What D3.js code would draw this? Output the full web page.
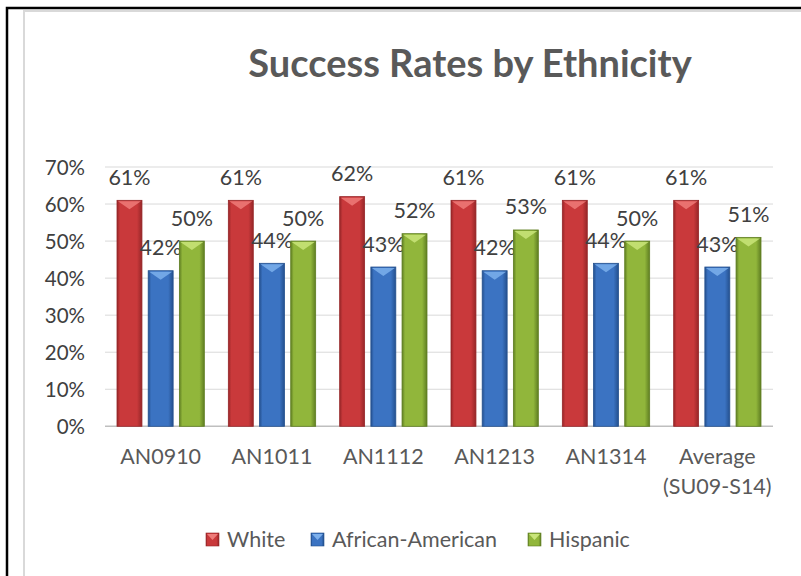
<!DOCTYPE html>
<html>
<head>
<meta charset="utf-8">
<script src="https://cdn.jsdelivr.net/npm/d3@7"></script>
<style>
  html, body { margin: 0; padding: 0; background: #fff; overflow: hidden; }
  svg { display: block; }
  text { font-family: Lato, "Open Sans", sans-serif; }
</style>
</head>
<body>
<svg id="chart" width="801" height="576"></svg>
<script>
// Success rates (%) by ethnicity for each academic year
const categories = ["AN0910", "AN1011", "AN1112", "AN1213", "AN1314", "Average\n(SU09-S14)"];
const seriesNames = ["White", "African-American", "Hispanic"];
const white = [61, 61, 62, 61, 61, 61];
const africanAmerican = [42, 44, 43, 42, 44, 43];
const hispanic = [50, 50, 52, 53, 50, 51];
const yTicks = [0, 10, 20, 30, 40, 50, 60, 70];

const series = [white, africanAmerican, hispanic];
const palette = [
  { base: "#C9393B", dark: "#962628", light: "#EE7B79" },
  { base: "#3B73C2", dark: "#24508E", light: "#7DB0EC" },
  { base: "#91B63B", dark: "#5F7E22", light: "#C9E57A" }
];

const svg = d3.select("#chart");

// Frame: outer black edge and the inner grey chart-area edge (top and left only)
svg.append("path").attr("d", "M7,576V8H801").attr("fill", "none")
  .attr("stroke", "#000").attr("stroke-width", 2.5);
svg.append("path").attr("d", "M24,576V11H801").attr("fill", "none")
  .attr("stroke", "#D9D9D9").attr("stroke-width", 2);

// Gradients for the bevelled bars
const defs = svg.append("defs");
palette.forEach((c, i) => {
  const g = defs.append("linearGradient").attr("id", "bar" + i)
    .attr("x1", "0%").attr("x2", "100%").attr("y1", "0%").attr("y2", "0%");
  g.append("stop").attr("offset", "0%").attr("stop-color", c.dark);
  g.append("stop").attr("offset", "12%").attr("stop-color", c.base);
  g.append("stop").attr("offset", "80%").attr("stop-color", c.base);
  g.append("stop").attr("offset", "100%").attr("stop-color", c.dark);
});

// Title
svg.append("text").attr("x", 470).attr("y", 77).attr("text-anchor", "middle")
  .attr("font-size", 38).attr("font-weight", 700).attr("fill", "#595959")
  .text("Success Rates by Ethnicity");

// Scales
const x0 = d3.scaleBand().domain(d3.range(categories.length)).range([105, 773]).paddingInner(0).paddingOuter(0);
const x1 = d3.scaleBand().domain(d3.range(series.length)).range([12, x0.bandwidth() - 12]).paddingInner(0.2).paddingOuter(0);
const y = d3.scaleLinear().domain([0, 70]).range([426.3, 167]);

// Gridlines
svg.append("g").selectAll("line").data(yTicks).join("line")
  .attr("x1", 105).attr("x2", 773)
  .attr("y1", d => y(d)).attr("y2", d => y(d))
  .attr("stroke", d => d === 0 ? "#BFBFBF" : "#D9D9D9").attr("stroke-width", d => d === 0 ? 1.5 : 1);

// Y axis labels
const yAxis = d3.axisLeft(y).tickValues(yTicks).tickFormat(d => d + "%").tickSize(0).tickPadding(0);
const ya = svg.append("g").attr("transform", "translate(85,0)").call(yAxis);
ya.select(".domain").remove();
ya.selectAll("text").attr("font-size", 20.5).attr("fill", "#404040")
  .attr("font-family", "Lato, 'Open Sans', sans-serif").attr("dy", "0.36em");

// Bars
const groups = svg.append("g").selectAll("g").data(categories).join("g")
  .attr("transform", (d, i) => `translate(${x0(i)},0)`);

groups.each(function (cat, ci) {
  const g = d3.select(this);
  series.forEach((vals, si) => {
    const v = vals[ci];
    const bx = x1(si), bw = x1.bandwidth(), top = y(v), bottom = y(0);
    g.append("rect").attr("x", bx).attr("y", top).attr("width", bw).attr("height", bottom - top)
      .attr("fill", `url(#bar${si})`).attr("stroke", palette[si].dark).attr("stroke-width", 0.8);
    g.append("path")
      .attr("d", `M${bx + 1},${top + 1}L${bx + bw - 1},${top + 1}L${bx + bw / 2},${top + 9}Z`)
      .attr("fill", palette[si].light).attr("opacity", 0.85);
    g.append("text").attr("x", bx + bw / 2).attr("y", top - 15.5)
      .attr("text-anchor", "middle").attr("font-size", 21.5).attr("fill", "#404040")
      .text(v + "%");
  });
});

// Category labels
groups.each(function (cat, ci) {
  const lines = cat.split("\n");
  const t = d3.select(this).append("text").attr("x", x0.bandwidth() / 2).attr("y", 464)
    .attr("text-anchor", "middle").attr("font-size", 21.5).attr("fill", "#595959");
  lines.forEach((l, li) => t.append("tspan").attr("x", x0.bandwidth() / 2).attr("dy", li ? 30 : 0).text(l));
});

// Legend
const legendX = [206, 311, 528];
const legend = svg.append("g").selectAll("g").data(seriesNames).join("g")
  .attr("transform", (d, i) => `translate(${legendX[i]},533)`);
legend.append("rect").attr("width", 13).attr("height", 13)
  .attr("fill", (d, i) => `url(#bar${i})`).attr("stroke", (d, i) => palette[i].dark).attr("stroke-width", 0.6);
legend.append("path").attr("d", "M1,1L12,1L6.5,7Z").attr("fill", (d, i) => palette[i].light);
legend.append("text").attr("x", 21).attr("y", 14).attr("font-size", 21.5).attr("fill", "#595959")
  .text(d => d);
</script>
</body>
</html>
